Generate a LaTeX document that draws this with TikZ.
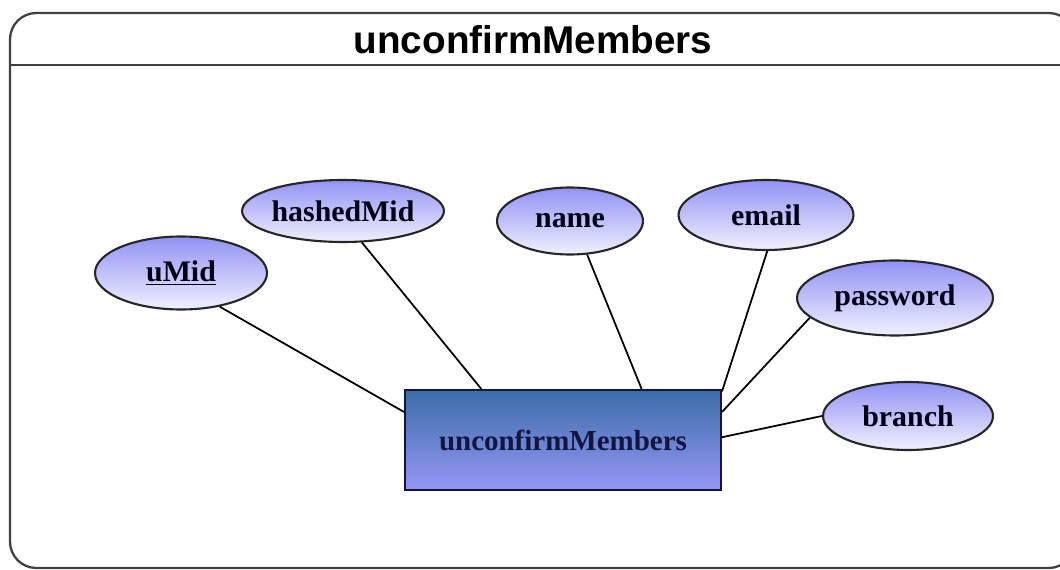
\documentclass[tikz,border=0pt]{standalone}
\usepackage{fontspec}
\setmainfont{Liberation Serif}
\newfontfamily\titlefont{Liberation Sans}
\usetikzlibrary{shapes.geometric}
\definecolor{attrtop}{RGB}{146,146,244}
\definecolor{attrbot}{RGB}{240,240,255}
\definecolor{enttop}{RGB}{58,110,168}
\definecolor{entbot}{RGB}{150,150,245}
\definecolor{enttext}{RGB}{20,20,64}
\tikzset{
  attr/.style={
    ellipse,draw=black!85,line width=1.2pt,top color=attrtop,bottom color=attrbot,
    inner sep=0pt,font=\fontsize{17}{20}\selectfont\bfseries,text=black!92!blue,
  },
  entity/.style={
    rectangle,draw=enttext,line width=1.2pt,top color=enttop,bottom color=entbot,
    font=\fontsize{16.5}{20}\selectfont\bfseries,text=enttext,
  },
  link/.style={draw=black,line width=1pt},
}

\begin{document}
\begin{tikzpicture}[x=0.02cm,y=-0.02cm]
    \useasboundingbox (0,0) rectangle (1060,570);
    % frame
    \begin{scope}
        \clip (0,0) rectangle (1060,570);
        \draw[black!75,line width=1.3pt,rounded corners=15] (10,13) rectangle (1075,568);
        \draw[black!75,line width=1.3pt] (10,65) -- (1060,65);
        \node (title) at (533,40) {\titlefont\fontsize{22}{26}\selectfont\bfseries unconfirmMembers};
    \end{scope}
    % entity
    \node[entity,minimum width=6.32cm,minimum height=2cm] (box) at (563,440) {unconfirmMembers};
    % attributes
    \node[attr,minimum width=3.44cm,minimum height=1.46cm] (umid) at (181,273) {\underline{uMid}};
    \node[attr,minimum width=3.96cm,minimum height=1.24cm] (hashed) at (343,211) {hashedMid};
    \node[attr,minimum width=2.92cm,minimum height=1.34cm] (name) at (570,221) {name};
    \node[attr,minimum width=3.5cm,minimum height=1.4cm] (email) at (766,215) {email};
    \node[attr,minimum width=3.92cm,minimum height=1.5cm] (password) at (895,298) {password};
    \node[attr,minimum width=3.4cm,minimum height=1.36cm] (branch) at (908,416) {branch};
    % links
    \draw[link] (umid.319) -- (box.170);
    \draw[link] (hashed.301) -- (box.148);
    \draw[link] (name.297) -- (box.33);
    \draw[link] (email.272) -- (box.17.5);
    \draw[link] (password.193) -- (box.10);
    \draw[link] (branch.180) -- (box.1);
\end{tikzpicture}
\end{document}
